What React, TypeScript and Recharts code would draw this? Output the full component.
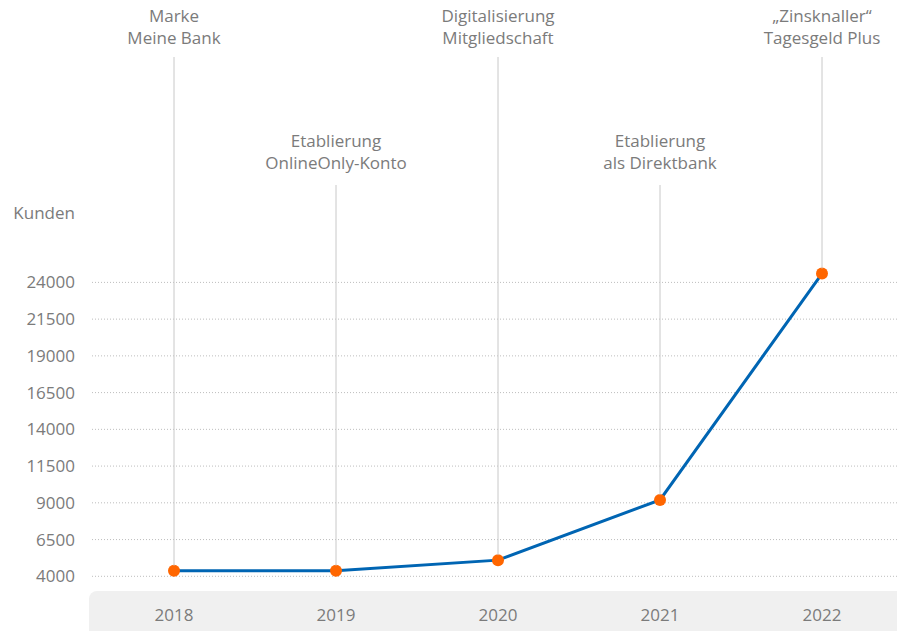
import React from 'react'
import { LineChart, Line, XAxis, YAxis, CartesianGrid, LabelList, Label } from 'recharts'

// Kundenentwicklung per year
const years = ['2018', '2019', '2020', '2021', '2022']
const kunden = [4380, 4380, 5100, 9200, 24600]
const yTicks = [4000, 6500, 9000, 11500, 14000, 16500, 19000, 21500, 24000]
const milestones = [
  ['Marke', 'Meine Bank'],
  ['Etablierung', 'OnlineOnly-Konto'],
  ['Digitalisierung', 'Mitgliedschaft'],
  ['Etablierung', 'als Direktbank'],
  ['„Zinsknaller“', 'Tagesgeld Plus'],
]

const FONT = '"Open Sans", sans-serif'
const TEXT = '#7b7b7b'

const data = years.map((year, i) => ({ year, kunden: kunden[i] }))

// vertical marker line + two-line caption above each point
const Milestone = (props: any) => {
  const { x, y, index } = props
  const lines = milestones[index]
  const low = index % 2 === 1
  const textY = low ? 147 : 22
  const lineTop = low ? 185 : 57
  return (
    <g>
      <line x1={x} x2={x} y1={lineTop} y2={y - 5} stroke="#c8c8c8" strokeWidth={1} />
      <text x={x} y={textY} textAnchor="middle" fill={TEXT} fontSize={17} fontFamily={FONT}>
        <tspan x={x}>{lines[0]}</tspan>
        <tspan x={x} dy={22}>{lines[1]}</tspan>
      </text>
    </g>
  )
}

export default function App() {
  return (
    <div style={{ position: 'absolute', left: 0, top: 0, width: 897, height: 631, overflow: 'hidden', background: '#fff' }}>
      <div style={{ position: 'absolute', left: 89, top: 591, width: 820, height: 50, background: '#f0f0f0', borderRadius: 8 }} />
      <div style={{ position: 'absolute', left: 0, top: 0 }}>
        <LineChart width={897} height={631} data={data} margin={{ top: 253, right: 0, bottom: 0, left: 0 }}>
          <CartesianGrid vertical={false} horizontalValues={yTicks} stroke="#bdbdbd" strokeDasharray="1 2" />
          <XAxis
            dataKey="year"
            height={40}
            axisLine={false}
            tickLine={false}
            tickMargin={12}
            padding={{ left: 82, right: 75 }}
            tick={{ fill: TEXT, fontSize: 17, fontFamily: FONT }}
          />
          <YAxis
            width={92}
            domain={[3000, 26000]}
            ticks={yTicks}
            interval={0}
            axisLine={false}
            tickLine={false}
            tickMargin={11}
            tick={{ fill: TEXT, fontSize: 17, fontFamily: FONT }}
          >
            <Label
              content={() => (
                <text x={75} y={219} textAnchor="end" fill={TEXT} fontSize={17} fontFamily={FONT}>
                  Kunden
                </text>
              )}
            />
          </YAxis>
          <Line
            type="linear"
            dataKey="kunden"
            stroke="#0065b3"
            strokeWidth={3}
            dot={{ r: 6, fill: '#ff6600', stroke: 'none' }}
            isAnimationActive={false}
          >
            <LabelList dataKey="kunden" content={<Milestone />} />
          </Line>
        </LineChart>
      </div>
    </div>
  )
}
